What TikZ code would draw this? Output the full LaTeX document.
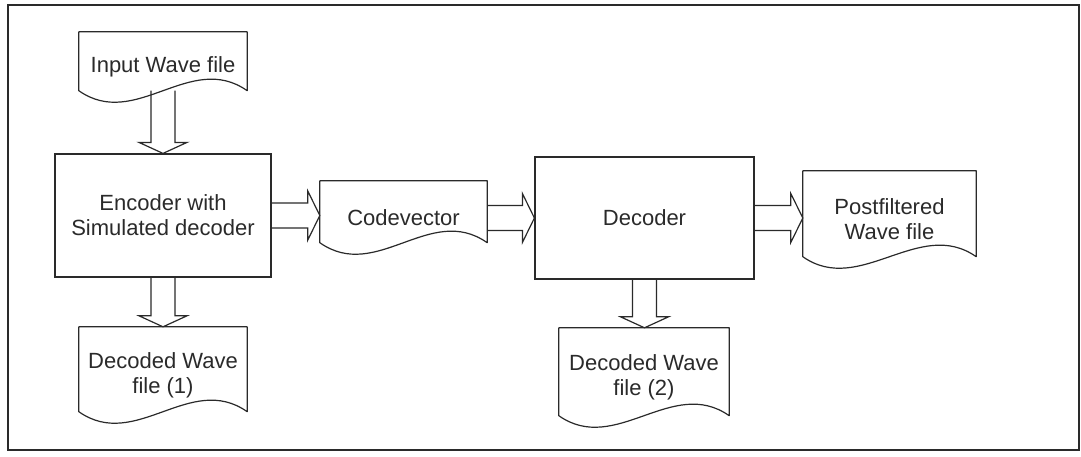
\documentclass[tikz,border=0pt]{standalone}
\usepackage{fontspec}
\setmainfont{Liberation Sans}
\usetikzlibrary{calc}
\definecolor{ink}{HTML}{2A2A2A}
\tikzset{
  proc/.style={draw=ink, line width=1.2pt, align=center, inner sep=0pt, text=ink, font=\fontsize{22}{25}\selectfont},
  docnode/.style={align=center, inner sep=0pt, minimum width=170pt, text=ink, font=\fontsize{22}{25}\selectfont},
  docline/.style={draw=ink, line width=1.2pt, line join=round},
  blk/.style={draw=ink, line width=1.2pt, line join=miter},
  frame/.style={draw=ink, line width=1.8pt}
}
\newcommand\docshape[1]{%
  \draw[docline] (#1.north west) -- (#1.north east) -- ([yshift=11.5pt]#1.south east)
    .. controls ([xshift=-57pt,yshift=51.5pt]#1.south east) and ([xshift=57pt,yshift=-28.5pt]#1.south west)
    .. ([yshift=11.5pt]#1.south west) -- cycle;}
\newcommand\harr[2]{%
  \draw[blk] ([yshift=12.5pt]#1) -- ([xshift=-12pt,yshift=12.5pt]#2) -- ([xshift=-12pt,yshift=24.5pt]#2)
    -- (#2) -- ([xshift=-12pt,yshift=-24.5pt]#2) -- ([xshift=-12pt,yshift=-12.5pt]#2) -- ([yshift=-12.5pt]#1);}
\newcommand\varr[2]{%
  \draw[blk] ([xshift=-12pt]#1) -- ([xshift=-12pt,yshift=11pt]#2) -- ([xshift=-24pt,yshift=11pt]#2)
    -- (#2) -- ([xshift=24pt,yshift=11pt]#2) -- ([xshift=12pt,yshift=11pt]#2) -- ([xshift=12pt]#1);}
\begin{document}
\begin{tikzpicture}[x=1pt,y=-1pt]
  \useasboundingbox (0,0) rectangle (1081,456);
  \draw[frame] (8,5) rectangle (1079,450);

  % nodes
  \node[docnode, minimum width=168pt, minimum height=70pt] (in) at (163,67) {Input Wave file};
  \node[proc, minimum width=216pt, minimum height=123pt] (enc) at (163,215.5) {Encoder with\\Simulated decoder};
  \node[docnode, minimum width=168pt, minimum height=96pt] (d1) at (163,375) {Decoded Wave\\file (1)};
  \node[docnode, minimum width=167pt, minimum height=73pt] (cv) at (403.5,217.5) {Codevector};
  \node[proc, minimum width=219pt, minimum height=122pt] (dec) at (644.5,218) {Decoder};
  \node[docnode, minimum width=170pt, minimum height=99pt] (d2) at (644,377.5) {Decoded Wave\\file (2)};
  \node[docnode, minimum width=173pt, minimum height=97pt] (pf) at (889.5,219.5) {Postfiltered\\Wave file};

  % document outlines
  \docshape{in}
  \docshape{d1}
  \docshape{cv}
  \docshape{d2}
  \docshape{pf}

  % connector end points
  \coordinate (a1s) at ([yshift=11.5pt]in.south);
  \coordinate (a1e) at (in.south |- enc.north);
  \coordinate (a2e) at (enc.south |- d1.north);
  \coordinate (a3e) at (cv.west |- enc.east);
  \coordinate (a4s) at (cv.east |- dec.west);
  \coordinate (a5e) at (pf.west |- dec.east);
  \coordinate (a6e) at (dec.south |- d2.north);

  % block arrows
  \varr{a1s}{a1e}
  \varr{enc.south}{a2e}
  \harr{enc.east}{a3e}
  \harr{a4s}{dec.west}
  \harr{dec.east}{a5e}
  \varr{dec.south}{a6e}
\end{tikzpicture}
\end{document}
